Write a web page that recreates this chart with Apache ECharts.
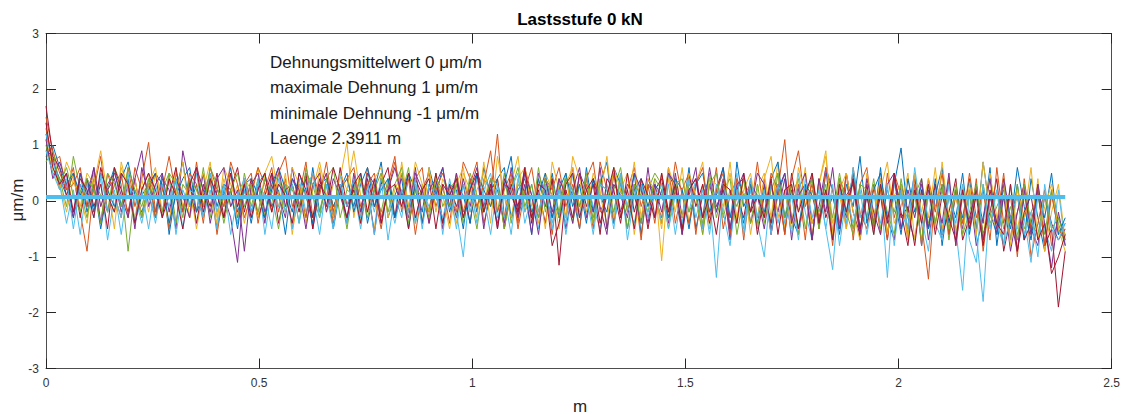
<!DOCTYPE html>
<html><head><meta charset="utf-8">
<script src="https://cdn.jsdelivr.net/npm/echarts@6/dist/echarts.min.js"></script>
<style>html,body{margin:0;padding:0;background:#fff}#c{width:1123px;height:414px}</style>
</head><body><div id="c"></div>
<script>
// ---- data ----
const chartTitle = 'Lastsstufe 0 kN';
const xAxisName = 'm';
const yAxisName = 'μm/m';
const laenge = 2.3911;          // measured length (m)
const mittelwert = 0.07;        // plotted mean line value
const annotationLines = [
  'Dehnungsmittelwert 0 μm/m',
  'maximale Dehnung 1 μm/m',
  'minimale Dehnung -1 μm/m',
  'Laenge 2.3911 m'
];
const xTicks = [0, 0.5, 1, 1.5, 2, 2.5];
const yTicks = [-3, -2, -1, 0, 1, 2, 3];

const strain1 = [1.2,.7,.4,.1,-.3,.5,-.2,.3,-.5,.2,.6,-.1,.4,-.4,.1,
 .3,-.2,.5,-.6,.2,.7,-.1,.3,-.3,.4,-.5,.1,.6,-.2,.2,
 -.4,.3,.5,-.1,.2,-.6,.4,.1,-.3,.6,-.2,.3,-.5,.2,.4,
 -.1,.5,-.4,.2,.7,-.3,.1,.4,-.5,.3,-.2,.6,.1,-.4,.3,
 .2,-.5,.4,-.2,.6,.1,-.4,.3,.8,-.3,.2,-.6,.4,-.1,.5,
 -.3,.4,.1,-.5,.6,-.2,.3,.7,-.4,.2,-.1,.5,-.6,.3,.1,
 -.4,.5,.2,-.3,.6,-.5,.1,.4,-.2,.3,-.6,.7,-.1,.2,-.4,
 .3,-.5,.1,.5,-.3,-.6,.2,.4,-.4,.1,-.7,.3,-.2,.5,-.5,
 .2,-.4,.6,-.6,.3,.95,-.3,-.7,.2,-.5,.4,-.8,.1,-.3,.5,
 -.6,.2,-.4,.6,-.8,.1,-.5,.3,-.7,.4,-.3,-.9,.2,-.6,-.4];
const strain2 = [1.5,.9,.5,.2,.6,-.2,-.9,.3,-.4,.5,.1,-.3,.6,-.1,.4,
 1.05,-.2,.3,-.5,.5,.1,-.3,.7,-.1,.4,-.6,.2,.5,-.3,.3,
 .5,-.4,.2,.6,-.2,.4,-.5,.1,.7,-.3,.2,.5,-.4,.3,-.1,
 .4,-.3,.6,.1,-.5,.3,.8,-.2,.4,-.6,.2,.5,-.1,.3,-.4,
 .5,-.2,.3,.7,-.4,.1,1.2,-.3,.4,-.5,.2,.6,-.2,.3,-.6,
 .4,-.3,.6,-.1,.3,-.5,.7,.2,-.4,.5,-.2,.3,-.7,.4,.1,
 -.3,.6,-.4,.2,.5,-.6,.3,-.2,.6,-.5,.1,.4,-.7,.3,-.3,
 .4,-.6,.2,1.1,-.4,.3,-.7,.5,-.3,.2,-.8,.4,-.5,.6,-.2,
 -.5,.3,-.6,.5,-.3,.2,-.7,.4,-.4,-1.4,.2,-.6,.4,-.8,.1,
 -.5,.4,-.9,.1,-.4,.5,-.7,-.2,.3,-1,-.4,.2,-.8,-.3,-.6];
const strain3 = [1.1,.6,.3,-.2,.4,.1,-.4,.5,-.1,.3,-.5,.7,.2,-.3,.4,
 -.2,.5,.1,-.4,.6,-.1,.3,-.5,.2,.7,-.3,.4,-.1,.3,-.4,
 .2,.6,-.3,.4,-.1,.5,-.6,.3,.1,-.4,.6,-.2,.3,.4,1.05,
 -.3,.4,.1,-.5,.5,.2,-.3,.7,-.1,.3,-.4,.6,-.2,.4,.1,
 -.4,.5,.2,-.3,.7,-.1,.4,-.5,.3,.8,-.2,.1,-.4,.5,.2,
 -.5,.3,.6,-.2,.4,-.4,.1,.8,-.3,.2,.5,-.6,.3,-.1,.4,
 -1.07,.4,-.2,.6,-.4,.3,.7,-.5,.2,-.1,.5,-.3,.4,-.6,.2,
 .5,-.3,.7,-.5,.2,-.2,.6,-.6,.3,.8,-.4,.1,-.5,.4,-.3,
 .3,-.6,.2,.7,-.4,-.1,.5,-.7,.2,-.3,.6,-.5,.1,-.6,.3,
 -.4,.2,-.7,.5,-.3,-.8,.3,-.5,.1,-.6,.4,-.9,-.2,.3,-.7];
const strain4 = [.9,.8,.2,.5,-.3,.3,-.1,.6,-.4,.2,.4,-.2,.3,-.5,.6,
 .1,-.3,.4,.2,-.5,.9,.3,-.2,.5,-.4,.2,.1,-.3,-1.1,.4,
 -.2,.3,-.4,.5,.1,-.3,.6,-.1,.4,-.5,.2,.5,-.2,.3,-.4,
 .5,-.2,.3,-.6,.4,.1,-.3,.5,-.2,.6,-.4,.2,.4,-.5,.2,
 -.3,.4,-.1,.5,-.5,.3,.2,-.4,.6,-.2,.3,-.6,.5,.1,-.3,
 .3,-.5,.2,.6,-.3,.4,-.1,-.6,.5,-.2,.3,.1,-.4,.6,-.3,
 .2,-.4,.5,-.3,.1,.6,-.5,.3,-.2,.4,-.7,.2,.5,-.4,.1,
 -.5,.3,-.2,.4,-.7,.2,.5,-.4,-.1,.6,-.6,.2,-.3,.4,-.7,
 .1,-.5,.4,-.3,-.7,.3,-.2,.5,-.8,.2,-.4,.3,-.6,.1,-.5,
 .2,-.8,-.3,.4,-.6,.1,-.9,-.2,.3,-.5,-.8,.1,-.4,-.7,-.5];
const strain5 = [1.0,.5,.4,-.1,.8,.2,-.3,.4,.1,-.2,.6,.3,-.9,.2,-.1,
 .4,-.3,.2,.5,-.4,.3,.1,-.2,.6,-.3,.4,-.1,.2,-.4,.5,
 -.1,.4,-.3,.2,.5,-.2,.3,-.4,.6,.1,-.3,.4,-.1,.2,-.5,
 .3,-.4,.5,.2,-.2,.4,-.3,.1,.6,-.4,.3,-.2,.5,-.1,.2,
 .4,-.3,.1,-.5,.4,.2,-.2,.5,-.4,.3,.1,-.3,.6,-.2,.4,
 -.2,.5,-.4,.3,.1,-.3,.4,-.5,.2,.6,-.2,.3,-.4,.2,.5,
 .3,-.2,.4,-.5,.3,.1,-.4,.5,-.3,.2,.4,-.6,.1,.3,-.5,
 .2,-.4,.5,-.3,.1,.4,-.5,.2,-.2,.3,-.6,.4,.1,-.5,.3,
 -.3,.4,-.5,.2,-.2,.3,-.6,.1,.4,-.4,-.1,.3,-.7,.2,-.4,
 .1,-.6,.3,-.4,-.1,.2,-.7,.3,-.5,-.2,.1,-.6,.2,-.4,-.8];
const strain6 = [1.2,.7,.3,-.4,.2,-.6,.3,-.2,.4,-.7,.1,-.3,.5,-.4,.2,
 -.5,.3,-.2,.4,-.6,.2,-.1,.5,-.3,.2,-.5,.3,.1,-.4,.2,
 -.3,.4,-.6,.2,-.1,.3,-.5,.4,-.2,.1,-.6,.3,-.3,.5,-.4,
 .2,-.5,.3,-.2,.4,-.7,.1,-.3,.5,-.4,.2,-.1,.3,-.6,.4,
 -.2,-1,.3,-.4,.2,.5,-.3,.1,-.6,.4,-.2,.3,-.5,.2,-.4,
 .3,-.6,.2,-.3,.4,-.1,-.5,.3,-.2,.5,-.7,.1,.4,-.3,.2,
 -.4,.3,-.6,.2,-.2,.4,-.5,.1,-1.37,.3,-.3,.5,-.6,.2,-.4,
 -1,.3,-.4,.2,-.6,.5,-.2,-.7,.3,-.5,-1.23,.2,-.4,.6,-.3,
 .2,-.6,.3,-1.37,.4,-.5,-.2,.3,-.8,.1,-.4,-.7,.3,-.5,-1.6,
 .2,-.6,-1.8,.1,-.4,-.8,.3,-.6,-.3,-1.1,.1,-.5,-.9,.2,-.8];
const strain7 = [1.7,.8,.6,.1,.5,-.3,.4,-.1,.3,-.5,.6,.2,-.2,.4,-.3,
 .3,.5,-.3,.1,.6,-.2,.4,-.4,.3,-.1,.5,-.3,.2,.6,-.2,
 .4,-.3,.1,.5,-.4,.2,.3,-.2,.5,-.5,.3,.1,-.3,.6,-.1,
 .2,-.4,.4,-.1,.3,.6,-.3,.2,-.5,.4,.1,-.2,.5,-.4,.3,
 -.1,.3,-.4,.5,-.2,.2,.4,-.5,.3,-.1,.6,-.3,.2,-.4,.4,
 -1.15,.2,-.3,.5,-.1,.3,-.6,.4,.2,-.4,.5,-.2,.3,-.5,.2,
 .4,-.3,.2,-.6,.5,-.1,.3,-.4,.2,.6,-.5,.1,-.3,.4,-.6,
 .1,-.4,.3,-.6,.5,-.2,.2,-.7,.4,-.3,.1,-.5,.5,-.2,-.6,
 .3,-.5,.1,-.7,.4,-.3,-.1,-.8,.2,-.5,.3,-.6,-.2,.4,-.7,
 -.3,.2,-.6,-.2,.4,-.9,-.3,.1,-.7,-.4,.2,-.8,-.5,-1.9,-.9];
const strain8 = [.8,1.0,.6,.3,.5,.1,.4,-.2,.5,.2,-.1,.4,.7,.1,-.2,
 .2,.5,.3,-.4,.1,.4,.6,-.2,.1,.5,-.1,.3,.2,-.5,.3,
 .4,.1,-.3,.3,.6,.2,-.2,.5,.1,-.4,.3,.4,-.1,.2,.5,
 -.2,.3,.6,-.1,.2,.4,-.3,.1,.5,.2,-.4,.3,.1,.6,-.2,
 .3,.1,-.4,.5,.2,-.1,.4,.6,-.3,.2,.4,-.2,.1,.5,-.3,
 .2,.5,-.1,.3,-.4,.4,.1,-.2,.6,.3,-.5,.2,.4,-.1,.3,
 .1,-.3,.4,.2,-.5,.3,.5,-.2,.1,.6,-.3,.2,-.4,.3,.1,
 -.2,.4,.7,-.3,.2,-.5,.3,.1,-.4,.5,.2,-.6,.3,-.1,.8,
 -.4,.2,.5,-.3,.1,-.6,.4,-.2,.3,-.5,.1,.6,-.4,.2,-.3,
 .4,-.5,.7,-.2,-.6,.3,-.4,.6,-.1,-.7,.2,-.3,.5,-.6,-.3];
const strain9 = [1.3,.7,.8,.2,.3,.6,-.1,.2,.8,-.2,.3,.5,-.3,.6,.2,
 .5,-.3,.2,.8,.1,-.2,.5,.3,-.4,.6,.2,-.1,.7,.3,-.3,
 .1,.6,.3,-.2,.5,.8,-.1,.3,-.3,.5,.1,.7,-.2,.2,.4,
 .6,-.1,.3,.5,-.3,.2,.7,.1,-.2,.4,.6,-.4,.2,.5,.1,
 -.2,.7,.4,-.1,.3,.9,-.2,.2,.5,-.4,.6,.1,-.3,.4,.2,
 .6,-.1,.3,-.5,.4,.7,-.2,.1,.5,-.3,.2,.6,-.1,.3,-.4,
 .5,-.2,.7,.1,-.4,.3,.6,-.3,.2,.5,-.6,.4,.1,-.2,.7,
 -.3,.5,.2,-.6,.4,.9,-.1,.3,-.5,.6,.2,-.4,.5,-.7,.3,
 .6,-.4,.2,-.7,.5,.1,-.5,.3,-.8,.4,-.2,.5,-.6,.2,-.4,
 .5,-.3,.2,-.7,.6,-.4,.1,-1,.4,-.5,.3,-.8,.1,-.5,-.7];
const strain10 = [.9,.6,.2,.7,.4,-.1,.5,.3,.9,.1,-.2,.6,.2,.4,-.3,
 .3,.6,-.2,.4,.1,.7,-.3,.2,.5,.1,-.4,.6,.3,-.1,.4,
 .2,-.3,.5,.8,.1,-.2,.6,.3,-.4,.2,.7,.1,-.3,.5,.2,
 .9,.1,-.2,.4,.6,-.3,.2,.5,-.1,.7,.3,-.2,.4,.1,-.5,
 .3,.6,-.2,.2,.5,-.4,.8,.1,-.3,.4,.6,-.1,.3,-.5,.7,
 .2,-.3,.8,.4,-.2,.5,.1,-.4,.6,.2,-.1,.7,-.3,.4,.2,
 -.5,.6,.2,-.3,.5,.1,-.6,.4,.3,-.2,.7,-.4,.2,.5,-.3,
 .4,.8,-.3,.2,-.5,.6,.1,-.4,.3,.9,-.6,.2,.5,-.2,-.7,
 .5,-.3,.4,-.6,.1,.3,-.7,.5,-.2,.4,-.5,.7,-.3,.1,-.6,
 .3,-.6,.7,-.2,-.5,.4,-.8,.2,-.3,.6,-.7,-.1,.3,-.5,-.9];
const strain11 = [1.1,.4,.7,.3,-.2,.5,.1,.6,-.1,.3,.5,.1,-.3,.4,.9,
 -.1,.3,.5,-.2,.4,.1,-.3,.6,.2,-.2,.4,.6,-.1,.2,-.9,
 .3,.5,-.2,.2,.6,-.1,.4,.2,-.5,.3,.5,-.2,.4,.1,-.3,
 .4,-.2,.5,.3,-.4,.2,.6,.1,-.3,.5,.2,-.4,.3,.6,-.1,
 .5,-.3,.2,.6,-.1,.4,-.5,.3,.2,-.3,.5,.1,-.6,.4,-.2,
 .4,.1,-.4,.5,.2,-.2,.6,-.5,.3,.1,-.3,.5,.2,-.4,.3,
 -.2,.5,.3,-.6,.2,.4,-.3,.6,-.1,.2,-.5,.3,.4,-.2,.5,
 .3,-.6,.2,.5,-.4,.1,.3,-.7,.4,-.2,.6,-.5,.1,.3,-.6,
 .4,-.2,-.6,.3,.5,-.5,.2,-.3,.4,-.7,.1,-.4,.5,-.8,.2,
 -.4,.3,-.7,.1,-.5,.4,-.3,-.9,.2,-.6,.3,-.4,-1.2,-.2,-.8];
const strain12 = [.7,.9,.3,.6,.1,-.2,.4,.2,-.4,.5,.3,-.1,.6,.2,-.3,
 .4,.1,-.2,.5,.3,-.3,.4,.2,-.1,.6,.3,-.4,.2,.5,-.1,
 .3,-.2,.4,.1,-.5,.3,.2,-.1,.5,.3,-.2,.4,.6,-.3,.2,
 .1,.4,-.3,.2,.5,-.2,.3,.6,-.4,.2,.1,-.3,.4,.2,-.1,
 .3,-.4,.5,.1,-.2,.4,.3,-.5,.2,.6,-.1,.3,-.3,.4,.1,
 -.3,.4,.2,-.1,.5,-.4,.3,.2,-.2,.4,-.5,.3,.1,-.2,.4,
 .2,-.5,.3,.4,-.2,.1,-.6,.3,.5,-.3,.2,-.1,.4,-.4,.3,
 -.4,.2,.5,-.3,.3,-.6,.1,.4,-.5,.2,-.3,.5,-.2,-.6,.3,
 .2,-.5,.3,-.2,-.6,.4,-.3,.1,-.7,.3,-.4,.2,-.5,.3,-.6,
 -.2,.3,-.6,-.3,.2,-.5,-.1,-.7,.3,-.4,-.6,.1,-.5,-.3,-.7];
const strain13 = [.9,.5,.2,.4,-.5,.3,.1,-.3,.5,-.2,.2,-.6,.3,.1,-.4,
 .2,-.4,.3,-.1,.4,-.5,.2,.1,-.3,.5,-.2,.3,-.6,.1,.4,
 -.2,.3,.1,-.5,.4,-.2,.3,-.4,.2,.5,-.3,.1,-.5,.3,-.1,
 .4,-.3,.2,-.6,.3,.1,-.4,.2,-.2,.4,-.5,.3,.1,-.3,.2,
 -.5,.3,-.2,.4,.1,-.6,.3,-.3,.2,.5,-.4,.1,-.2,.3,-.5,
 .2,-.4,.5,-.3,.1,-.6,.3,.2,-.5,.4,-.1,-.4,.3,-.2,.1,
 .3,-.5,.1,-.4,.4,-.3,.2,-.6,.3,-.2,-.8,.2,-.5,.4,-.3,
 .2,-.6,.3,-.4,.1,-.7,.4,-.3,.2,-.5,.3,-.8,.1,-.4,.2,
 -.6,.1,-.4,.3,-.8,.2,-.5,.6,-.3,-.9,.2,-.6,.1,-.4,.3,
 -.7,-1.1,.3,-.5,.2,-.8,-.3,.1,-.6,-.2,-1,.3,-.5,-.7,-.4];
const strain14 = [1.4,.6,.3,.5,-.2,.4,.2,-.3,.6,.1,-.2,.5,.3,-.4,.2,
 .5,.2,-.3,.4,.1,-.5,.3,.6,-.2,.4,.1,-.3,.5,-.1,.3,
 -.3,.2,.5,-.2,.3,.1,-.4,.5,.2,-.3,.4,-.1,.6,.2,-.3,
 .3,.5,-.2,.4,-.4,.2,.3,-.1,.5,-.3,.2,.4,-.5,.3,.1,
 .4,-.3,.2,.5,-.2,.3,-.5,.4,.1,-.2,.6,-.4,.3,.2,-.8,
 -.4,.3,.5,-.3,.2,.4,-.4,.1,.6,-.3,.2,-.5,.4,.1,-.3,
 .5,-.2,.3,-.5,.2,.4,-.3,.1,-.6,.3,.2,-.4,.5,-.2,.1,
 -.3,.4,-.6,.2,.3,-.5,.1,.5,-.4,.2,-.7,.3,-.2,.4,-.5,
 .1,-.6,.3,-.4,.5,-.2,-.8,.2,-.4,.3,-.6,.1,-.3,-.7,.2,
 -.5,.1,-.8,.2,-.4,-.6,.3,-.9,-.2,.1,-.7,-.4,-1.3,-1,-.6];

const allStrains = [strain1, strain2, strain3, strain4, strain5, strain6, strain7,
                    strain8, strain9, strain10, strain11, strain12, strain13, strain14];

// ---- styles ----
const lineColors = ['#0072BD','#D95319','#EDB120','#7E2F8E','#77AC30','#4DBEEE','#A2142F'];
const FONT = '"Liberation Sans", Arial, Helvetica, sans-serif';
const axisCol = '#4d4d4d';

const series = allStrains.map((vals, k) => {
  const step = laenge / (vals.length - 1);
  return {
    type: 'line', xAxisIndex: 0, yAxisIndex: 0,
    data: vals.map((v, i) => [i * step, v]),
    showSymbol: false, symbol: 'none', silent: true,
    lineStyle: { width: 1, color: lineColors[k % lineColors.length] },
    z: 2
  };
});
series.push({
  type: 'line', xAxisIndex: 0, yAxisIndex: 0,
  data: [[0, mittelwert], [laenge, mittelwert]],
  showSymbol: false, symbol: 'none', silent: true,
  lineStyle: { width: 4, color: '#4DBEEE' }, z: 5
});

function axisBase() {
  return {
    axisLine: { show: true, onZero: false, lineStyle: { color: axisCol, width: 1 } },
    axisTick: { show: true, inside: true, length: 10, lineStyle: { color: '#262626' } },
    splitLine: { show: false },
  };
}

const chart = echarts.init(document.getElementById('c'), null, { renderer: 'svg' });
chart.setOption({
  animation: false,
  backgroundColor: '#fff',
  grid: { left: 46, right: 9, top: 33.5, bottom: 45.5, containLabel: false },
  xAxis: [
    Object.assign(axisBase(), {
      type: 'value', position: 'bottom', min: xTicks[0], max: xTicks[xTicks.length-1], interval: 0.5,
      axisLabel: { show: true, margin: 8, fontSize: 12, color: '#333', fontFamily: FONT,
        formatter: v => String(v) }
    }),
    Object.assign(axisBase(), {
      type: 'value', position: 'top', min: xTicks[0], max: xTicks[xTicks.length-1], interval: 0.5,
      axisLabel: { show: false }
    })
  ],
  yAxis: [
    Object.assign(axisBase(), {
      type: 'value', position: 'left', min: yTicks[0], max: yTicks[yTicks.length-1], interval: 1,
      axisLabel: { show: true, margin: 7, fontSize: 12, color: '#333', fontFamily: FONT }
    }),
    Object.assign(axisBase(), {
      type: 'value', position: 'right', min: yTicks[0], max: yTicks[yTicks.length-1], interval: 1,
      axisLabel: { show: false }
    })
  ],
  series: series,
  graphic: [
    { type: 'text', x: 580, y: 19.5, silent: true,
      style: { text: chartTitle, fill: '#000', font: 'bold 17px ' + FONT, align: 'center', verticalAlign: 'middle' } },
    { type: 'text', x: 580, y: 406, silent: true,
      style: { text: xAxisName, fill: '#262626', font: '17px ' + FONT, align: 'center', verticalAlign: 'middle' } },
    { type: 'text', x: 17, y: 200, rotation: Math.PI / 2, silent: true,
      style: { text: yAxisName, fill: '#262626', font: '17px ' + FONT, align: 'center', verticalAlign: 'middle' } },
  ].concat(annotationLines.map((t, i) => ({
    type: 'text', x: 270, y: 62.5 + i * 25.3, silent: true, z: 100,
    style: { text: t, fill: '#1a1a1a', font: '17px ' + FONT, align: 'left', verticalAlign: 'middle' }
  })))
});
</script>
</body></html>
